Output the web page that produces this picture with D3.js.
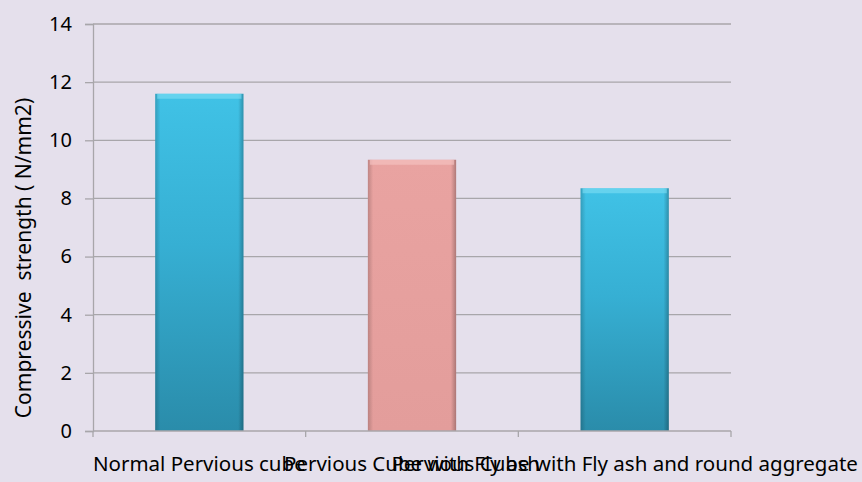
<!DOCTYPE html>
<html><head><meta charset="utf-8">
<script src="https://cdn.jsdelivr.net/npm/d3@7"></script>
<style>
html,body{margin:0;padding:0;background:#E5E0EC;}
svg{display:block;font-family:"Noto Sans","Open Sans",sans-serif;}
</style></head>
<body>
<svg id="chart" width="862" height="482"></svg>
<script>
const categories = ["Normal Pervious cube", "Pervious Cube with Fly ash", "Pervious Cube with Fly ash and round aggregate"];
const values = [11.6, 9.33, 8.35];
const barColors = ["blue", "pink", "blue"];
const yTicks = [0, 2, 4, 6, 8, 10, 12, 14];
const yTitle = "Compressive  strength ( N/mm2)";

const svg = d3.select("#chart");
const W = 862, H = 482;
const m = {left: 93, right: 131, top: 24, bottom: 51};
svg.append("rect").attr("width", W).attr("height", H).attr("fill", "#E5E0EC");

const defs = svg.append("defs");
const gBlue = defs.append("linearGradient").attr("id", "gblue").attr("x1", 0).attr("y1", 0).attr("x2", 0).attr("y2", 1);
gBlue.append("stop").attr("offset", "0%").attr("stop-color", "#40C2E6");
gBlue.append("stop").attr("offset", "45%").attr("stop-color", "#36AFD3");
gBlue.append("stop").attr("offset", "100%").attr("stop-color", "#2A8CAA");
const gPink = defs.append("linearGradient").attr("id", "gpink").attr("x1", 0).attr("y1", 0).attr("x2", 0).attr("y2", 1);
gPink.append("stop").attr("offset", "0%").attr("stop-color", "#E9A3A1");
gPink.append("stop").attr("offset", "100%").attr("stop-color", "#E39D9B");
const gEdge = defs.append("linearGradient").attr("id", "gedge").attr("x1", 0).attr("y1", 0).attr("x2", 1).attr("y2", 0);
gEdge.append("stop").attr("offset", "0%").attr("stop-color", "#000").attr("stop-opacity", 0.18);
gEdge.append("stop").attr("offset", "6%").attr("stop-color", "#000").attr("stop-opacity", 0);
gEdge.append("stop").attr("offset", "94%").attr("stop-color", "#000").attr("stop-opacity", 0);
gEdge.append("stop").attr("offset", "100%").attr("stop-color", "#000").attr("stop-opacity", 0.25);

const x = d3.scaleBand().domain(categories).range([m.left, W - m.right]).paddingInner(0).paddingOuter(0);
const y = d3.scaleLinear().domain([0, 14]).range([H - m.bottom, m.top]);

// gridlines
svg.append("g").selectAll("line").data(yTicks.filter(d => d > 0)).join("line")
  .attr("x1", m.left).attr("x2", W - m.right)
  .attr("y1", d => y(d)).attr("y2", d => y(d))
  .attr("stroke", "#A8A6AA").attr("stroke-width", 1.3);

// y axis
const yAxis = svg.append("g").attr("transform", `translate(${m.left},0)`)
  .call(d3.axisLeft(y).tickValues(yTicks).tickSize(8).tickPadding(13).tickFormat(d3.format("d")));
yAxis.select(".domain").attr("stroke", "#A8A6AA").attr("stroke-width", 1.3);
yAxis.selectAll(".tick line").attr("stroke", "#A8A6AA").attr("stroke-width", 1.3);
yAxis.selectAll("text").attr("font-size", 20).attr("fill", "#000").attr("font-family", "Noto Sans");

// bars
const bw = x.bandwidth() * 0.415;
const bars = svg.append("g").selectAll("g").data(categories).join("g");
bars.append("rect")
  .attr("x", d => x(d) + (x.bandwidth() - bw) / 2)
  .attr("y", (d, i) => y(values[i]))
  .attr("width", bw)
  .attr("height", (d, i) => y(0) - y(values[i]))
  .attr("fill", (d, i) => barColors[i] === "blue" ? "url(#gblue)" : "url(#gpink)");
bars.append("rect")
  .attr("x", d => x(d) + (x.bandwidth() - bw) / 2)
  .attr("y", (d, i) => y(values[i]))
  .attr("width", bw)
  .attr("height", (d, i) => y(0) - y(values[i]))
  .attr("fill", "url(#gedge)");
bars.append("rect")
  .attr("x", d => x(d) + (x.bandwidth() - bw) / 2 + 2)
  .attr("y", (d, i) => y(values[i]))
  .attr("width", bw - 4)
  .attr("height", 5)
  .attr("fill", (d, i) => barColors[i] === "blue" ? "#7FDDF3" : "#F6C6C4")
  .attr("opacity", 0.6);

// x axis
const xAxis = svg.append("g").attr("transform", `translate(0,${y(0)})`);
xAxis.append("line").attr("x1", m.left).attr("x2", W - m.right).attr("y1", 0).attr("y2", 0)
  .attr("stroke", "#A8A6AA").attr("stroke-width", 1.3);
const bounds = categories.map(c => x(c)).concat([x(categories[categories.length - 1]) + x.bandwidth()]);
xAxis.selectAll("line.t").data(bounds).join("line").attr("class", "t")
  .attr("x1", d => d).attr("x2", d => d).attr("y1", 0).attr("y2", 6)
  .attr("stroke", "#A8A6AA").attr("stroke-width", 1.3);
xAxis.selectAll("text").data(categories).join("text")
  .attr("x", d => x(d) + x.bandwidth() / 2).attr("y", 40)
  .attr("text-anchor", "middle").attr("font-size", 20.5).attr("fill", "#000")
  .text(d => d);

// y title
svg.append("text")
  .attr("transform", `translate(31,258) rotate(-90)`)
  .attr("text-anchor", "middle").attr("font-size", 21).attr("fill", "#000")
  .style("white-space", "pre")
  .text(yTitle);
</script>
</body></html>
